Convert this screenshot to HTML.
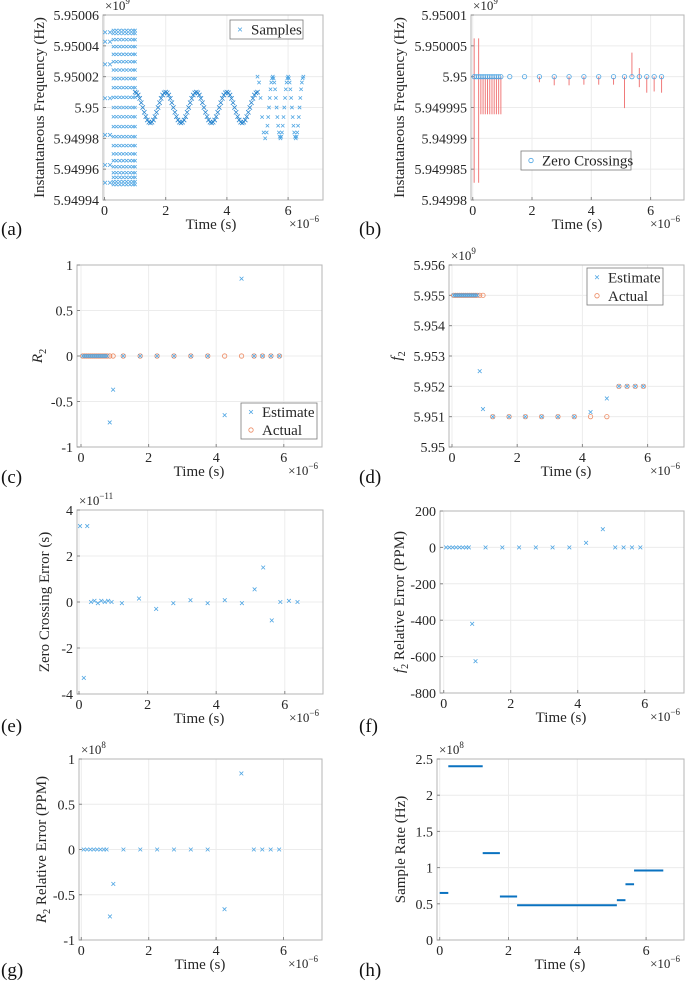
<!DOCTYPE html>
<html><head><meta charset="utf-8">
<style>
html,body{margin:0;padding:0;background:#fff;}
svg, svg text{font-family:"Liberation Serif","DejaVu Serif",serif;}
</style></head>
<body>
<svg id="fig" width="685" height="986" viewBox="0 0 685 986" font-family="Liberation Serif, DejaVu Serif, serif" xmlns="http://www.w3.org/2000/svg"></svg>
<script>
// ---------- DATA ----------
// (a) instantaneous frequency samples, values = offset from 5.95e9 in kHz
const aSparseT = [0.02,0.18];
const aSparseVals = [48.8,42.7,28,6,-17.8,-37.3,-48.8];
const aColT = [0.29,0.39,0.5,0.61,0.72,0.83,0.93,1.0];
const aColVals = [50,48,44,39.5,34.5,29.7,24.3,18.7,12.9,6.6,0,-6,-12.4,-18.9,-24.7,-30.1,-34.5,-38.4,-42.3,-45.3,-48.1,-50];
const aWave1T = [1,1.05,1.1,1.15,1.2,1.25,1.3,1.35,1.4,1.45,1.5,1.55,1.6,1.65,1.7,1.75,1.8,1.85,1.9,1.95,
2,2.05,2.1,2.15,2.2,2.25,2.3,2.35,2.4,2.45,2.5,2.55,2.6,2.65,2.7,2.75,2.8,2.85,2.9,2.95,
3,3.05,3.1,3.15,3.2,3.25,3.3,3.35,3.4,3.45,3.5,3.55,3.6,3.65,3.7,3.75,3.8,3.85,3.9,3.95,
4,4.05,4.1,4.15,4.2,4.25,4.3,4.35,4.4,4.45,4.5,4.55,4.6,4.65,4.7,4.75,4.8,4.85,4.9,4.95,5];
const aWave1V = [10,9.5,8.1,5.9,3.1,0,-3.1,-5.9,-8.1,-9.5,-10,-9.5,-8.1,-5.9,-3.1,0,3.1,5.9,8.1,9.5,
10,9.5,8.1,5.9,3.1,0,-3.1,-5.9,-8.1,-9.5,-10,-9.5,-8.1,-5.9,-3.1,0,3.1,5.9,8.1,9.5,
10,9.5,8.1,5.9,3.1,0,-3.1,-5.9,-8.1,-9.5,-10,-9.5,-8.1,-5.9,-3.1,0,3.1,5.9,8.1,9.5,
10,9.5,8.1,5.9,3.1,0,-3.1,-5.9,-8.1,-9.5,-10,-9.5,-8.1,-5.9,-3.1,0,3.1,5.9,8.1,9.5,10];
const aWave2T = [5,5.05,5.1,5.15,5.2,5.25,5.3,5.325,5.35,5.375,5.4,5.425,5.45,5.475,5.5,5.525,5.55,5.575,5.6,5.625,5.65,5.675,5.7,5.725,5.75,5.775,5.8,5.825,5.85,5.875,5.9,5.925,5.95,5.975,6,6.025,6.05,6.075,6.1,6.125,6.15,6.175,6.2,6.225,6.25,6.275,6.3,6.325,6.35,6.375,6.4,6.425,6.45,6.475,6.5];
const aWave2V = [20,16.2,6.2,-6.2,-16.2,-20,-16.2,-11.8,-6.2,0,6.2,11.8,16.2,19,20,19,16.2,11.8,6.2,0,-6.2,-11.8,-16.2,-19,-20,-19,-16.2,-11.8,-6.2,0,6.2,11.8,16.2,19,20,19,16.2,11.8,6.2,0,-6.2,-11.8,-16.2,-19,-20,-19,-16.2,-11.8,-6.2,0,6.2,11.8,16.2,19,20];
const aYTickLabels = ["5.94994","5.94996","5.94998","5.95","5.95002","5.95004","5.95006"];
// (b) zero crossings, offset from 5.95e9 in kHz, with error-bar extents
const bT = [0.05,0.125,0.2,0.275,0.35,0.425,0.5,0.575,0.65,0.725,0.8,0.875,0.95,1.25,1.75,2.25,2.75,3.25,3.75,4.25,4.75,5.12,5.37,5.62,5.87,6.12,6.37];
const bV = [0,0,0,0,0,0,0,0,0,0,0,0,0,0,0,0,0,0,0,0,0,0,0,0,0,0,0];
const bErrLo = [-17.2,0,-17.2,-6.1,-6.1,-6.1,-6.1,-6.1,-6.1,-6.1,-6.1,-6.1,-6.1,0,0,-0.9,-1.4,-1.4,-1.3,-1.3,-1.3,-5.1,0,-1.7,-2.6,-2.4,-2.6];
const bErrHi = [6.2,0,6.2,0,0,0,0,0,0,0,0,0,0,0,0,0,0,0,0,0,-0.2,0,3.9,1.4,0,0,0];
const bYTickLabels = ["5.94998","5.949985","5.94999","5.949995","5.95","5.950005","5.95001"];
// common zero-crossing estimate times (c,d)
const zT = [0.05,0.11,0.17,0.23,0.29,0.35,0.41,0.47,0.53,0.59,0.65,0.71,0.77,0.85,0.95,1.25,1.75,2.25,2.75,3.25,3.75,4.25,4.75,5.12,5.37,5.62,5.87];
// (c) R2
const cEst = [0,0,0,0,0,0,0,0,0,0,0,0,0,-0.73,-0.37,0,0,0,0,0,0,-0.65,0.85,0,0,0,0];
const cAct = [0,0,0,0,0,0,0,0,0,0,0,0,0,0,0,0,0,0,0,0,0,0,0,0,0,0,0];
// (d) f2, offset from 5.95e9 in MHz
const dEst = [5,5,5,5,5,5,5,5,5,5,5,5,5,2.5,1.25,1,1,1,1,1,1,1.15,1.6,2,2,2,2];
const dAct = [5,5,5,5,5,5,5,5,5,5,5,5,5,5,5,1,1,1,1,1,1,1,1,2,2,2,2];
const dYTickLabels = ["5.95","5.951","5.952","5.953","5.954","5.955","5.956"];
// (e) zero crossing error (x1e-11 s)
const eT = [0.03,0.14,0.24,0.35,0.45,0.55,0.65,0.75,0.85,0.95,1.25,1.75,2.25,2.75,3.25,3.75,4.25,4.75,5.12,5.37,5.62,5.87,6.12,6.37];
const eV = [3.3,-3.3,3.3,0,0.05,-0.05,0.05,0,0.05,0,-0.05,0.15,-0.3,-0.05,0.08,-0.05,0.08,-0.05,0.55,1.5,-0.8,0,0.05,0];
// (f) f2 relative error (PPM)
const fT = [0.07,0.17,0.27,0.37,0.47,0.57,0.67,0.75,0.85,0.95,1.25,1.75,2.25,2.75,3.25,3.75,4.25,4.75,5.12,5.37,5.62,5.87];
const fV = [0,0,0,0,0,0,0,0,-420,-625,0,0,0,0,0,0,25,100,0,0,0,0];
// (g) R2 relative error (x1e8 PPM)
const gT = [0.07,0.17,0.27,0.37,0.47,0.57,0.67,0.75,0.85,0.95,1.25,1.75,2.25,2.75,3.25,3.75,4.25,4.75,5.12,5.37,5.62,5.87];
const gV = [0,0,0,0,0,0,0,0,-0.74,-0.38,0,0,0,0,0,0,-0.66,0.84,0,0,0,0];
// (h) sample rate segments (x1e8 Hz)
const hStart = [0,0.25,1.25,1.75,2.25,5.15,5.4,5.65];
const hEnd = [0.25,1.25,1.75,2.25,5.15,5.4,5.65,6.5];
const hRate = [0.65,2.4,1.2,0.6,0.48,0.55,0.77,0.96];

// ---------- DRAWING ----------
const NS = "http://www.w3.org/2000/svg";
const svg = document.getElementById('fig');
const FONT = "Liberation Serif, DejaVu Serif, serif";
const BLUE = "#4ea5e3", ORANGE = "#ec8a62";
function mk(tag, attrs, parent, txt){
  const e = document.createElementNS(NS, tag);
  for (const k in attrs) e.setAttribute(k, attrs[k]);
  if (tag === 'text') e.setAttribute('font-family', FONT);
  if (txt !== undefined) e.textContent = txt;
  (parent || svg).appendChild(e);
  return e;
}
function makePanel(c){
  const g = mk('g', {});
  
  
  const sx = t => c.x0 + c.kx * t;
  const sy = v => c.B - (v - c.yMin) / (c.yMax - c.yMin) * (c.B - c.T);
  [0,2,4,6].forEach(t => { const l = mk('line', {x1:sx(t),x2:sx(t),y1:c.T,y2:c.B,stroke:'#ececec','stroke-width':1}, g);
      });
  c.yTicks.forEach(v => { const l = mk('line', {x1:c.L,x2:c.R,y1:sy(v),y2:sy(v),stroke:'#ececec','stroke-width':1}, g);
      });
  const box = mk('rect', {x:c.L,y:c.T,width:c.R-c.L,height:c.B-c.T,fill:'none',stroke:'#b5b5b5','stroke-width':1}, g);
   
  [0,2,4,6].forEach(t => {
    mk('line',{x1:sx(t),x2:sx(t),y1:c.B,y2:c.B-3,stroke:'#888'},g);
    const tx = mk('text',{x:sx(t),y:c.B+15,'text-anchor':'middle','font-size':14,fill:'#262626'},g,String(t));
     
  });
  c.yTicks.forEach((v,i) => {
    mk('line',{x1:c.L,x2:c.L+3,y1:sy(v),y2:sy(v),stroke:'#888'},g);
    const tx = mk('text',{x:c.L-4,y:sy(v)+5,'text-anchor':'end','font-size':14,fill:'#262626'},g,c.yLabels[i]);
     
  });
  const xt = mk('text',{x:c.xtX,y:c.B+29,'text-anchor':'middle','font-size':15,fill:'#262626'},g,'Time (s)');
   
  const xe = mk('text',{x:c.R-4,y:c.B+28,'text-anchor':'end','font-size':13,fill:'#262626'},g,'×10');
  mk('tspan',{dy:-6,'font-size':9},xe,'−6');
   
  if (c.yExp){
    const ye = mk('text',{x:c.L+2,y:c.T-5,'font-size':13,fill:'#262626'},g,'×10');
    mk('tspan',{dy:-6,'font-size':9},ye,c.yExp);
     
  }
  const yt = mk('text',{x:0,y:0,'text-anchor':'middle','font-size':15,fill:'#262626',transform:`translate(${c.ytX},${(c.T+c.B)/2}) rotate(-90)`},g);
  c.yTitle.forEach(p => { mk('tspan',p.a||{},yt,p.t); });
   
  const pl = mk('text',{x:c.plX,y:c.plY,'font-size':19,fill:'#111'},g,'('+c.id+')');
   
  return {g, sx, sy};
}
function cross(g, x, y, col, s){
  const d = s || 1.9;
  const p = mk('path',{d:`M${x-d},${y-d}L${x+d},${y+d}M${x-d},${y+d}L${x+d},${y-d}`,stroke:col||BLUE,'stroke-width':0.8,fill:'none'},g);
  
  
  return p;
}
function circ(g, x, y, col){
  const p = mk('circle',{cx:x,cy:y,r:2.2,stroke:col,'stroke-width':0.8,fill:'none'},g);
  
  
  return p;
}
function legend(g, x, y, w, h, items){
  const lg = mk('g',{},g);
  
  
  mk('rect',{x:x,y:y,width:w,height:h,fill:'#fff',stroke:'#7a7a7a','stroke-width':0.8},lg);
  items.forEach((it,i) => {
    const cy = y + h/(items.length*2) * (2*i+1);
    if (it.m === 'x') cross(lg, x+10, cy, it.c); else circ(lg, x+10, cy, it.c);
    const t = mk('text',{x:x+21,y:cy+5,'font-size':15,fill:'#262626'},lg,it.t);
    
    
  });
}

// (a)
{
  const c = {id:'a',L:103,R:323,T:15,B:200,x0:104.5,kx:30.6,yMin:-60,yMax:60,yTicks:[-60,-40,-20,0,20,40,60],yLabels:aYTickLabels,
    yExp:'9',xtX:211,ytX:44,yTitle:[{t:'Instantaneous Frequency (Hz)'}],plX:1,plY:235};
  const P = makePanel(c);
  aSparseT.forEach(t => aSparseVals.forEach(v => cross(P.g, P.sx(t), P.sy(v))));
  aColT.forEach(t => aColVals.forEach(v => cross(P.g, P.sx(t), P.sy(v), BLUE, 1.6)));
  aWave1T.forEach((t,i) => cross(P.g, P.sx(t), P.sy(aWave1V[i]), '#2a86cf', 2.2));
  aWave2T.forEach((t,i) => cross(P.g, P.sx(t), P.sy(aWave2V[i]), BLUE, 1.7));
  legend(P.g, 230, 20, 73, 19, [{m:'x',c:BLUE,t:'Samples'}]);
}
// (b)
{
  const c = {id:'b',L:471,R:684,T:15,B:200,x0:472.7,kx:29.65,yMin:-20,yMax:10,yTicks:[-20,-15,-10,-5,0,5,10],yLabels:bYTickLabels,
    yExp:'9',xtX:577,ytX:404,yTitle:[{t:'Instantaneous Frequency (Hz)'}],plX:359,plY:235};
  const P = makePanel(c);
  bT.forEach((t,i) => {
    if (bErrLo[i] !== bErrHi[i]) {
      const l = mk('line',{x1:P.sx(t),x2:P.sx(t),y1:P.sy(bErrHi[i]),y2:P.sy(bErrLo[i]),stroke:'#f07a7a','stroke-width':1},P.g);
      
      
    }
  });
  bT.forEach((t,i) => circ(P.g, P.sx(t), P.sy(bV[i]), BLUE));
  legend(P.g, 521, 151, 110, 19, [{m:'o',c:BLUE,t:'Zero Crossings'}]);
}
// (c)
{
  const c = {id:'c',L:77,R:322,T:265,B:447,x0:81,kx:33.8,yMin:-1,yMax:1,yTicks:[-1,-0.5,0,0.5,1],yLabels:['-1','-0.5','0','0.5','1'],
    xtX:199,ytX:42,yTitle:[{t:'R',a:{'font-style':'italic'}},{t:'2',a:{dy:4,'font-size':10}}],plX:1,plY:483};
  const P = makePanel(c);
  zT.forEach((t,i) => circ(P.g, P.sx(t), P.sy(cAct[i]), ORANGE));
  zT.forEach((t,i) => cross(P.g, P.sx(t), P.sy(cEst[i])));
  legend(P.g, 241, 403, 76, 36, [{m:'x',c:BLUE,t:'Estimate'},{m:'o',c:ORANGE,t:'Actual'}]);
}
// (d)
{
  const c = {id:'d',L:449,R:684,T:265,B:447,x0:452,kx:32.6,yMin:0,yMax:6,yTicks:[0,1,2,3,4,5,6],yLabels:dYTickLabels,
    yExp:'9',xtX:566,ytX:401,yTitle:[{t:'f',a:{'font-style':'italic'}},{t:'2',a:{dy:4,'font-size':10}}],plX:359,plY:483};
  const P = makePanel(c);
  zT.forEach((t,i) => circ(P.g, P.sx(t), P.sy(dAct[i]), ORANGE));
  zT.forEach((t,i) => cross(P.g, P.sx(t), P.sy(dEst[i])));
  legend(P.g, 587, 268, 76, 37, [{m:'x',c:BLUE,t:'Estimate'},{m:'o',c:ORANGE,t:'Actual'}]);
}
// (e)
{
  const c = {id:'e',L:77,R:323,T:510,B:694,x0:79,kx:34.3,yMin:-4,yMax:4,yTicks:[-4,-2,0,2,4],yLabels:['-4','-2','0','2','4'],
    yExp:'−11',xtX:199,ytX:49,yTitle:[{t:'Zero Crossing Error (s)'}],plX:1,plY:732};
  const P = makePanel(c);
  eT.forEach((t,i) => cross(P.g, P.sx(t), P.sy(eV[i])));
}
// (f)
{
  const c = {id:'f',L:440,R:684,T:511,B:693,x0:443.7,kx:33.5,yMin:-800,yMax:200,yTicks:[-800,-600,-400,-200,0,200],yLabels:['-800','-600','-400','-200','0','200'],
    xtX:561,ytX:404,yTitle:[{t:'f',a:{'font-style':'italic'}},{t:'2',a:{dy:4,'font-size':10}},{t:' Relative Error (PPM)',a:{dy:-4}}],plX:359,plY:732};
  const P = makePanel(c);
  fT.forEach((t,i) => cross(P.g, P.sx(t), P.sy(fV[i])));
}
// (g)
{
  const c = {id:'g',L:79,R:322,T:759,B:940,x0:81.3,kx:33.7,yMin:-1,yMax:1,yTicks:[-1,-0.5,0,0.5,1],yLabels:['-1','-0.5','0','0.5','1'],
    yExp:'8',xtX:200,ytX:46,yTitle:[{t:'R',a:{'font-style':'italic'}},{t:'2',a:{dy:4,'font-size':10}},{t:' Relative Error (PPM)',a:{dy:-4}}],plX:1,plY:976};
  const P = makePanel(c);
  gT.forEach((t,i) => cross(P.g, P.sx(t), P.sy(gV[i])));
}
// (h)
{
  const c = {id:'h',L:437,R:684,T:759,B:940,x0:439.7,kx:34.4,yMin:0,yMax:2.5,yTicks:[0,0.5,1,1.5,2,2.5],yLabels:['0','0.5','1','1.5','2','2.5'],
    yExp:'8',xtX:560,ytX:405,yTitle:[{t:'Sample Rate (Hz)'}],plX:359,plY:976};
  const P = makePanel(c);
  hStart.forEach((s,i) => {
    const l = mk('line',{x1:P.sx(s),x2:P.sx(hEnd[i]),y1:P.sy(hRate[i]),y2:P.sy(hRate[i]),stroke:'#0a72c0','stroke-width':2},P.g);
    
    
  });
}
</script>
</body></html>
